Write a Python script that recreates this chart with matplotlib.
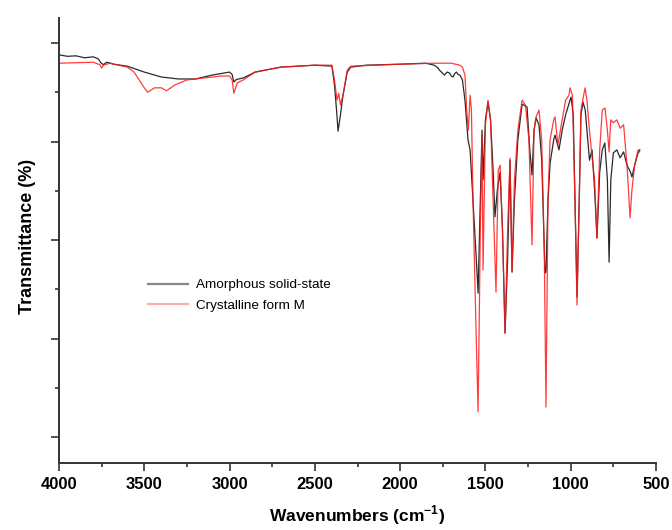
import matplotlib
matplotlib.use("Agg")
import matplotlib.pyplot as plt
from matplotlib.ticker import MultipleLocator, NullFormatter

# ---- data ----
amorphous_wn = [4000, 3950, 3900, 3850, 3800, 3770, 3755, 3740, 3720, 3680, 3600, 3500, 3400,
                3300, 3200, 3100, 3000, 2985, 2975, 2960, 2920, 2850, 2700, 2500, 2400,
                2385, 2372, 2364, 2350, 2335, 2310, 2290, 2200, 2000, 1850, 1800, 1780,
                1770, 1755, 1740, 1725, 1710, 1700, 1690, 1680, 1670, 1660, 1650, 1635,
                1620, 1602, 1590, 1573, 1550, 1543, 1530, 1520, 1514, 1500, 1485, 1470,
                1455, 1444, 1430, 1414, 1400, 1385, 1370, 1356, 1344, 1330, 1310, 1285,
                1256, 1240, 1227, 1215, 1203, 1186, 1170, 1151, 1145, 1133, 1121, 1100,
                1092, 1069, 1050, 1030, 1004, 998, 985, 975, 963, 950, 940, 928, 915,
                900, 890, 875, 860, 846, 830, 815, 800, 785, 775, 765, 750, 730, 710,
                690, 670, 650, 641, 625, 605, 595]
amorphous_t = [77.6, 77.3, 77.4, 77.0, 77.2, 76.8, 76.0, 75.6, 76.1, 75.7, 75.3, 74.1, 73.1,
               72.7, 72.7, 73.5, 74.1, 73.6, 72.1, 72.6, 72.9, 74.1, 75.1, 75.5, 75.3,
               71.5, 66.0, 62.1, 65.4, 69.4, 74.1, 75.1, 75.5, 75.7, 75.9, 75.5, 75.0,
               74.5, 74.0, 73.5, 74.1, 73.9, 73.3, 73.1, 73.8, 74.1, 73.6, 73.5, 72.5,
               68.4, 60.3, 58.3, 48.1, 33.9, 29.2, 48.1, 62.3, 52.2, 64.4, 68.0, 64.4,
               54.2, 44.7, 50.2, 53.8, 42.0, 21.1, 35.9, 56.2, 33.5, 48.1, 60.3, 67.6,
               67.0, 58.3, 53.2, 62.3, 64.8, 63.4, 56.2, 33.3, 33.5, 48.1, 55.6, 60.3,
               61.3, 58.3, 62.3, 65.4, 68.4, 69.0, 65.4, 48.1, 28.4, 48.1, 65.4, 68.0, 66.4,
               60.3, 56.2, 58.3, 50.2, 40.4, 53.8, 58.3, 59.7, 52.2, 35.5, 52.2, 57.7, 58.3, 56.7,
               57.9, 55.2, 53.8, 52.8, 55.2, 57.7, 58.3]

crystalline_wn = [4000, 3900, 3800, 3760, 3750, 3740, 3700, 3600, 3560, 3530, 3500, 3480,
                  3440, 3400, 3370, 3320, 3250, 3150, 3050, 3000, 2985, 2975, 2955, 2920,
                  2850, 2700, 2500, 2400, 2385, 2370, 2360, 2350, 2335, 2310, 2290, 2000,
                  1800, 1700, 1650, 1635, 1620, 1610, 1600, 1590, 1582, 1573, 1555, 1543,
                  1530, 1520, 1514, 1500, 1485, 1470, 1455, 1438, 1425, 1414, 1400, 1385,
                  1370, 1356, 1344, 1330, 1310, 1285, 1265, 1245, 1227, 1215, 1203, 1186,
                  1170, 1155, 1145, 1133, 1121, 1100, 1092, 1075, 1050, 1030, 1010, 1004,
                  990, 975, 963, 950, 940, 916, 905, 890, 875, 860, 846, 830, 815, 799,
                  785, 775, 765, 750, 730, 710, 690, 670, 652, 641, 625, 605, 595]
crystalline_t = [75.9, 76.0, 76.1, 75.6, 74.9, 75.5, 75.9, 75.1, 74.1, 72.5, 70.9, 70.0,
                 70.9, 70.9, 70.3, 71.5, 72.5, 72.9, 73.3, 73.3, 72.5, 69.8, 71.9, 72.5,
                 74.1, 75.1, 75.5, 75.5, 72.5, 68.4, 69.8, 67.4, 69.4, 74.5, 75.3, 75.7,
                 75.9, 75.9, 75.5, 75.1, 73.5, 66.4, 62.3, 69.4, 66.4, 48.1, 21.7, 5.1,
                 42.0, 61.3, 33.9, 63.4, 68.4, 64.4, 48.1, 29.4, 54.2, 55.2, 42.0, 21.1,
                 42.0, 56.6, 33.5, 52.2, 62.3, 68.4, 67.4, 60.3, 39.0, 62.3, 65.0, 66.4,
                 60.3, 38.0, 6.1, 48.7, 60.3, 64.4, 65.0, 59.3, 64.4, 68.4, 69.4, 70.9,
                 69.4, 48.1, 26.8, 48.1, 66.4, 70.9, 68.4, 62.3, 56.9, 52.2, 40.4, 58.3,
                 66.4, 66.8, 62.3, 57.9, 64.4, 63.8, 64.4, 62.7, 63.4, 55.2, 44.5, 50.2,
                 55.2, 58.3, 57.9]

series_labels = ["Amorphous solid-state", "Crystalline form M"]
x_ticks = [4000, 3500, 3000, 2500, 2000, 1500, 1000, 500]

# ---- figure ----
plt.rcParams['font.family'] = ['Liberation Sans', 'DejaVu Sans']
fig = plt.figure(figsize=(6.72, 5.30), dpi=100)
ax = fig.add_axes([59 / 672, 1 - 463 / 530, (656 - 59) / 672, (463 - 18) / 530])

ax.plot(amorphous_wn, amorphous_t, color='#2a2a2a', lw=0.9, label=series_labels[0])
ax.plot(crystalline_wn, crystalline_t, color='#ff1a1a', lw=0.9, alpha=0.85,
        label=series_labels[1])

ax.set_xlim(4000, 500)
ax.set_ylim(-5.28, 85.08)

ax.set_xticks(x_ticks)
ax.set_xticklabels([str(t) for t in x_ticks], fontweight='bold', fontsize=12)
ax.xaxis.set_minor_locator(MultipleLocator(250))
ax.yaxis.set_major_locator(MultipleLocator(20))
ax.yaxis.set_minor_locator(MultipleLocator(10))
ax.yaxis.set_major_formatter(NullFormatter())

for side in ['top', 'right']:
    ax.spines[side].set_visible(False)
for side in ['left', 'bottom']:
    ax.spines[side].set_linewidth(1.4)
    ax.spines[side].set_color('#333333')

ax.tick_params(axis='both', which='major', direction='out', length=6, width=1.2,
               color='#333333', pad=4)
ax.tick_params(axis='both', which='minor', direction='out', length=3, width=1.2,
               color='#333333')

ax.set_xlabel('Wavenumbers (cm$^{\\mathregular{-1}}$)', fontweight='bold', fontsize=12.5)
ax.xaxis.set_label_coords((357 - 59) / 597, (463 - 503) / 445)
ax.set_ylabel('Transmittance (%)', fontweight='bold', fontsize=13)
ax.yaxis.set_label_coords((36 - 59) / 597, (463 - 236) / 445)

leg = ax.legend(loc='upper left', bbox_to_anchor=(148 / 672, 1 - 279 / 530),
                bbox_transform=fig.transFigure, frameon=False, fontsize=9.7,
                handlelength=3.0, handletextpad=0.6, borderpad=0, borderaxespad=0,
                labelspacing=0.6)
for line in leg.get_lines():
    line.set_linewidth(1.6)
leg.get_lines()[0].set_color('#888888')
leg.get_lines()[1].set_color('#ffaaaa')
leg.get_lines()[1].set_alpha(1.0)

fig.savefig('out.png', dpi=100, facecolor='white')
